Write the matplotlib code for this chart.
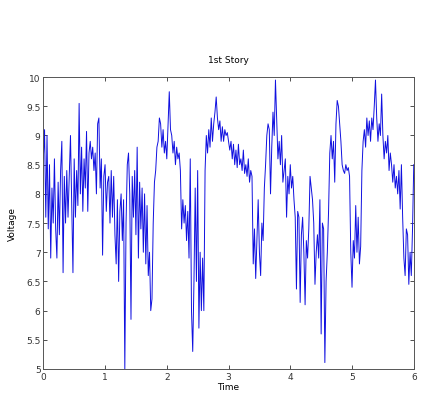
import matplotlib
matplotlib.use('Agg')
import matplotlib.pyplot as plt
import numpy as np

# voltage, one value every 0.02 s (one row = 0.2 s)
voltage = [
    8.6, 9.1, 7.6, 9.0, 7.4, 8.5, 6.9, 8.1, 7.5, 8.6,
    7.4, 6.9, 8.2, 7.3, 8.4, 8.9, 6.65, 8.3, 7.5, 8.4,
    7.6, 8.3, 9.0, 7.8, 6.65, 8.6, 7.6, 8.4, 7.8, 9.55,
    8.0, 8.8, 7.7, 8.6, 8.1, 9.07, 7.7, 8.7, 8.9, 8.6,
    8.8, 8.4, 8.7, 8.0, 9.2, 9.3, 8.1, 8.6, 6.95, 8.3,
    8.5, 7.7, 8.2, 8.3, 7.5, 8.4, 7.6, 8.3, 7.3, 6.8,
    7.9, 6.5, 7.7, 8.0, 7.2, 7.9, 5.0, 7.5, 8.5, 8.7,
    8.0, 5.85, 8.3, 7.6, 8.4, 7.3, 8.8, 6.9, 8.2, 7.4,
    8.1, 7.0, 8.0, 6.8, 7.8, 6.6, 7.0, 6.0, 6.2, 7.5,
    8.2, 8.4, 8.8, 8.9, 9.3, 9.2, 8.8, 9.1, 8.7, 8.9,
    8.6, 9.2, 9.75, 9.1, 9.0, 8.7, 8.9, 8.5, 8.8, 8.6,
    8.7, 8.4, 7.4, 7.9, 7.5, 7.8, 7.2, 7.7, 6.9, 8.6,
    6.0, 5.3, 6.5, 8.1, 6.5, 8.4, 5.7, 7.0, 6.0, 6.9,
    6.0, 8.4, 9.0, 8.7, 9.1, 8.8, 9.3, 8.9, 9.2, 9.4,
    9.66, 9.3, 9.1, 9.25, 8.9, 9.15, 8.9, 9.1, 9.0, 9.05,
    8.9, 8.75, 8.9, 8.6, 8.85, 8.5, 8.75, 8.45, 8.85, 8.5,
    8.6, 8.4, 8.75, 8.35, 8.5, 8.3, 8.6, 8.2, 8.4, 8.3,
    6.8, 7.4, 6.55, 7.2, 7.9, 7.0, 6.6, 7.5, 7.2, 8.1,
    8.5, 9.0, 9.2, 9.1, 8.0, 8.8, 9.4, 9.0, 9.95, 9.3,
    8.6, 8.9, 8.5, 9.0, 8.2, 8.4, 8.6, 7.6, 8.3, 8.0,
    8.5, 8.1, 8.3, 7.9, 7.6, 6.37, 7.7, 7.6, 6.14, 7.3,
    7.6, 7.0, 6.1, 7.2, 6.9, 7.4, 8.3, 8.1, 7.9, 7.5,
    6.45, 7.0, 7.3, 6.9, 7.9, 5.6, 7.5, 7.4, 5.11, 6.5,
    7.0, 7.7, 8.7, 9.0, 8.6, 8.9, 8.2, 9.2, 9.6, 9.5,
    9.2, 8.9, 8.5, 8.4, 8.35, 8.5, 8.4, 8.45, 8.3, 7.0,
    6.4, 7.2, 6.9, 7.8, 7.0, 7.6, 6.8, 7.1, 8.4, 8.9,
    9.1, 8.8, 9.3, 9.0, 9.25, 8.9, 9.3, 9.1, 9.5, 9.95,
    9.3, 8.9, 9.2, 9.0, 9.71, 9.0, 8.6, 8.9, 8.7, 9.0,
    8.4, 8.7, 8.5, 8.2, 8.5, 8.1, 8.3, 8.0, 8.4, 7.74,
    8.5, 7.6, 6.9, 6.6, 7.4, 7.3, 6.45, 7.0, 6.6, 7.4,
    8.5,
]
time = np.linspace(0, 6, len(voltage))

xticks = [0, 1, 2, 3, 4, 5, 6]
yticks = [5, 5.5, 6, 6.5, 7, 7.5, 8, 8.5, 9, 9.5, 10]
ytick_labels = ["5", "5.5", "6", "6.5", "7", "7.5", "8", "8.5", "9", "9.5", "10"]

fig = plt.figure(figsize=(4.31, 4.14), dpi=100)
ax = fig.add_axes([0.1005, 0.1063, 0.8595, 0.705])
ax.plot(time, voltage, color="#1010e0", linewidth=0.7)

ax.set_xlim(0, 6)
ax.set_ylim(5, 10)
ax.set_xticks(xticks)
ax.set_yticks(yticks)
ax.set_yticklabels(ytick_labels)
ax.tick_params(direction="in", length=3, width=0.6, labelsize=6.5,
               top=True, right=True, colors="#333333", pad=2)
for s in ax.spines.values():
    s.set_color("#555555")
    s.set_linewidth(0.7)

ax.set_title("1st Story", fontsize=6.5, pad=11)
ax.set_xlabel("Time", fontsize=6.5, labelpad=1)
ax.set_ylabel("Voltage", fontsize=6.5, labelpad=7)

fig.savefig("out.png", dpi=100)
